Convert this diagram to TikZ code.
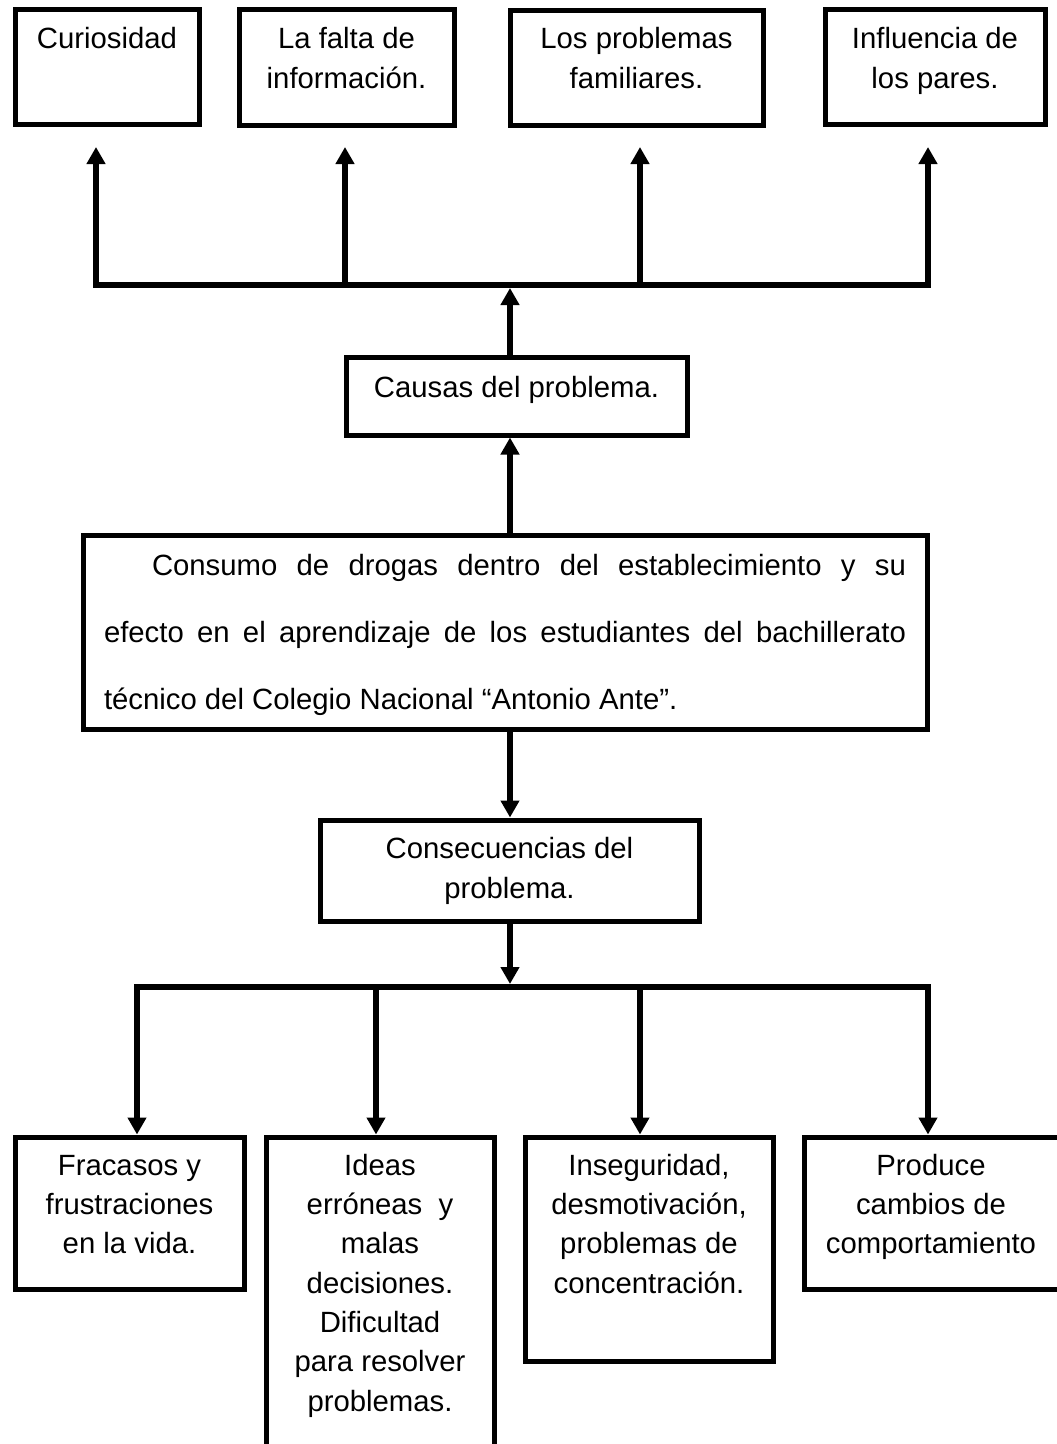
\documentclass[tikz,border=0pt]{standalone}
\usepackage{fontspec}
\setmainfont{Liberation Sans}
\usetikzlibrary{arrows.meta}
\tikzset{
  box/.style={draw, line width=5pt, rectangle, inner sep=0pt},
  txt/.style={anchor=north, inner sep=0pt, align=center,
    font=\fontsize{29.3}{39.3}\selectfont},
  bigtxt/.style={anchor=north, inner sep=0pt, align=justify, text width=802pt,
    font=\fontsize{29.3}{67}\selectfont},
  conn/.style={line width=5.5pt},
  arr/.style={conn, -{Triangle[length=17pt,width=18pt]}},
  arrs/.style={conn, {Triangle[length=17pt,width=18pt]}-{Triangle[length=17pt,width=18pt]}}
}
\begin{document}
\begin{tikzpicture}[x=1pt,y=-1pt]
\useasboundingbox (0,0) rectangle (1057,1444);
\clip (0,0) rectangle (1057,1444);
% top boxes
\node[box, minimum width=184pt, minimum height=115pt] (b1) at (107,66.5) {};
\node[box, minimum width=215pt, minimum height=116pt] (b2) at (346.5,67) {};
\node[box, minimum width=253pt, minimum height=115pt] (b3) at (636.5,67.5) {};
\node[box, minimum width=220pt, minimum height=115pt] (b4) at (935,66.5) {};
\node[txt] (t1) at (107,21) {\strut Curiosidad};
\node[txt] (t2) at (346.5,21) {\strut La falta de\\información.};
\node[txt] (t3) at (636.5,21) {\strut Los problemas\\familiares.};
\node[txt] (t4) at (935,21) {\strut Influencia de\\los pares.};
% causas
\node[box, minimum width=341pt, minimum height=78pt] (causas) at (516.5,396) {};
\node[txt] (tc) at (516.5,370) {\strut Causas del problema.};
% main
\node[box, minimum width=844pt, minimum height=194pt] (main) at (505,632) {};
\node[bigtxt] (tm) at (505,528) {\strut\hspace*{48pt}Consumo de drogas dentro del establecimiento y su\linebreak
efecto en el aprendizaje de los estudiantes del bachillerato\linebreak
técnico del Colegio Nacional “Antonio Ante”.};
% consecuencias
\node[box, minimum width=379pt, minimum height=101pt] (cons) at (509.5,870.5) {};
\node[txt] (tcs) at (509.5,831) {\strut Consecuencias del\\problema.};
% bottom boxes
\node[box, minimum width=229pt, minimum height=152pt] (fA) at (129.5,1213) {};
\node[box, minimum width=228pt, minimum height=323pt] (fB) at (380,1298.5) {};
\node[box, minimum width=248pt, minimum height=224pt] (fC) at (649,1249) {};
\node[box, minimum width=261pt, minimum height=152pt] (fD) at (934.5,1213) {};
\node[txt] (tA) at (129.5,1147.5) {\strut Fracasos y\\frustraciones\\en la vida.};
\node[txt] (tB) at (380,1147.5) {\strut Ideas\\erróneas~ y\\malas\\decisiones.\\Dificultad\\para resolver\\problemas.};
\node[txt] (tC) at (649,1147.5) {\strut Inseguridad,\\desmotivación,\\problemas de\\concentración.};
\node[txt] (tD) at (931,1147.5) {\strut Produce\\cambios de\\comportamiento};
% coordinates for connectors
\coordinate (axis) at (510,0);
\coordinate (u1) at (96,147);
\coordinate (u2) at (345,147);
\coordinate (u3) at (640,147);
\coordinate (u4) at (928,147);
\coordinate (j1) at (96,285);
\coordinate (j2) at (345,285);
\coordinate (j3) at (640,285);
\coordinate (j4) at (928,285);
\coordinate (jc) at (510,288);
\coordinate (k1) at (137,987);
\coordinate (k2) at (376,987);
\coordinate (k3) at (640,987);
\coordinate (k4) at (928,987);
\coordinate (kc) at (510,984);
% upper connectors
\draw[arrs] (u1) -- (j1) -- (j4) -- (u4);
\draw[arr] (j2) -- (u2);
\draw[arr] (j3) -- (u3);
\draw[arr] (causas.north -| axis) -- (jc);
\draw[arr] (main.north -| axis) -- (causas.south -| axis);
% lower connectors
\draw[arr] (main.south -| axis) -- (cons.north -| axis);
\draw[arr] (cons.south -| axis) -- (kc);
\draw[arrs] (fA.north -| k1) -- (k1) -- (k4) -- (fD.north -| k4);
\draw[arr] (k2) -- (fB.north -| k2);
\draw[arr] (k3) -- (fC.north -| k3);
\end{tikzpicture}
\end{document}
